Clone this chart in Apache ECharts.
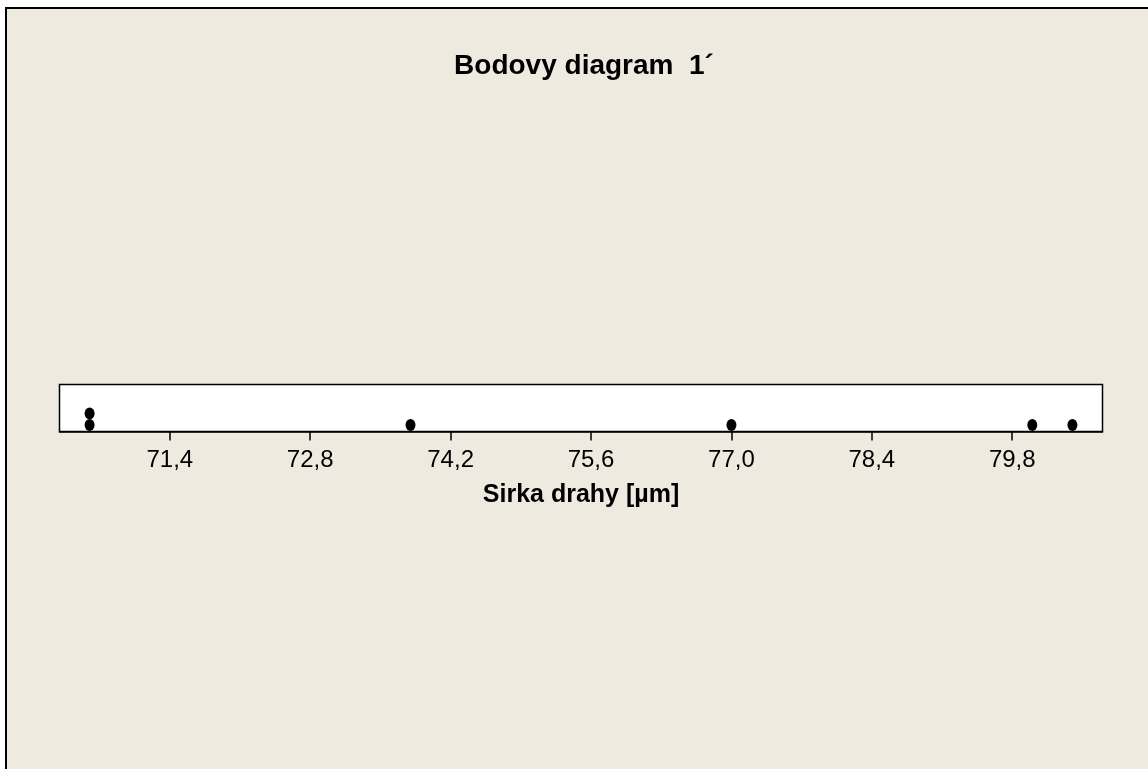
<!DOCTYPE html>
<html>
<head>
<meta charset="utf-8">
<script src="https://cdn.jsdelivr.net/npm/echarts@6/dist/echarts.min.js"></script>
<style>
  html, body { margin: 0; padding: 0; background: #ffffff; }
  #chart { width: 1148px; height: 769px; }
</style>
</head>
<body>
<div id="chart"></div>
<script>
// Measured track widths (µm)
const widths = [70.6, 70.6, 73.8, 77.0, 80.0, 80.4];
// Tick positions on the measurement axis
const tickValues = [71.4, 72.8, 74.2, 75.6, 77.0, 78.4, 79.8];
const titleText = 'Bodovy diagram  1\u00B4';
const axisTitle = 'Sirka drahy [\u00B5m]';

// Stack repeated values upward, one dot per observation
const seen = {};
const dots = widths.map(function (v) {
  const key = v.toFixed(3);
  seen[key] = (seen[key] || 0) + 1;
  return [v, seen[key]];
});

const fmt = function (v) { return v.toFixed(1).replace('.', ','); };
const font = '"Liberation Sans", Arial, sans-serif';

const chart = echarts.init(document.getElementById('chart'), null, { renderer: 'canvas' });
chart.setOption({
  animation: false,
  backgroundColor: '#ffffff',
  graphic: [{
    type: 'rect',
    z: -10,
    silent: true,
    shape: { x: 6, y: 8, width: 1200, height: 800 },
    style: { fill: '#EEEAE0', stroke: '#000000', lineWidth: 2 }
  }],
  title: {
    text: titleText,
    left: 579,
    textAlign: 'center',
    top: 47,
    textStyle: { fontFamily: font, fontWeight: 'bold', fontSize: 28, color: '#000000' }
  },
  grid: {
    left: 59.5,
    right: 45.5,
    top: 384.5,
    height: 47,
    show: true,
    backgroundColor: '#ffffff',
    borderColor: '#000000',
    borderWidth: 1.5
  },
  xAxis: {
    type: 'value',
    min: 70.3,
    max: 80.7,
    name: axisTitle,
    nameLocation: 'middle',
    nameGap: 51,
    nameTextStyle: { fontFamily: font, fontWeight: 'bold', fontSize: 25, color: '#000000' },
    axisLine: { show: true, lineStyle: { color: '#000000', width: 1.5 } },
    axisTick: {
      show: true,
      length: 9,
      customValues: tickValues,
      lineStyle: { color: '#000000', width: 1.5 }
    },
    axisLabel: {
      show: true,
      customValues: tickValues,
      margin: 17,
      fontFamily: font,
      fontSize: 24,
      color: '#000000',
      formatter: fmt
    },
    splitLine: { show: false }
  },
  yAxis: {
    type: 'value',
    min: 0.44,
    max: 4.49,
    show: false,
    splitLine: { show: false }
  },
  series: [{
    type: 'scatter',
    data: dots,
    symbol: 'circle',
    symbolSize: [10, 12],
    itemStyle: { color: '#000000', opacity: 1 }
  }]
});
</script>
</body>
</html>
